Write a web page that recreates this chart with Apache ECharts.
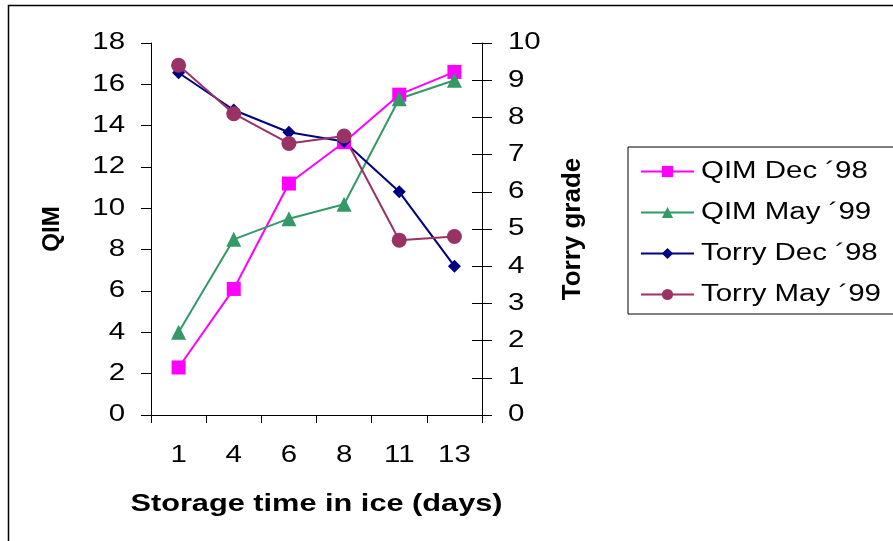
<!DOCTYPE html>
<html>
<head>
<meta charset="utf-8">
<script src="https://cdn.jsdelivr.net/npm/echarts@6/dist/echarts.min.js"></script>
<style>
html,body{margin:0;padding:0;background:#fff;}
#main{width:893px;height:541px;}
</style>
</head>
<body>
<div id="main"></div>
<script>
var categories = ['1', '4', '6', '8', '11', '13'];
var qimDec98 = [2.3, 6.1, 11.2, 13.2, 15.5, 16.6];
var qimMay99 = [4.0, 8.5, 9.5, 10.2, 15.3, 16.2];
var torryDec98 = [9.2, 8.2, 7.6, 7.35, 6.0, 4.0];
var torryMay99 = [9.4, 8.1, 7.3, 7.5, 4.7, 4.8];
var seriesNames = ['QIM Dec \u00B498', 'QIM May \u00B499', 'Torry Dec \u00B498', 'Torry May \u00B499'];

// The reference text is horizontally stretched (old Excel rendering); emulate it
// for horizontal text by scaling glyphs around their anchor point.
(function () {
  var proto = CanvasRenderingContext2D.prototype;
  var orig = proto.fillText;
  proto.fillText = function (t, x, y, maxW) {
    var m = this.getTransform();
    if (Math.abs(m.b) < 1e-6 && Math.abs(m.c) < 1e-6) {
      this.save();
      this.translate(x, y);
      this.scale(1.28, 1);
      if (maxW === undefined) orig.call(this, t, 0, 0); else orig.call(this, t, 0, 0, maxW);
      this.restore();
    } else {
      if (maxW === undefined) orig.call(this, t, x, y); else orig.call(this, t, x, y, maxW);
    }
  };
})();

var FONT = 'Liberation Sans, Arial, sans-serif';
var chart = echarts.init(document.getElementById('main'), null, {renderer: 'canvas'});
var option = {
  backgroundColor: '#ffffff',
  animation: false,
  graphic: [{
    type: 'rect',
    left: 6, top: 3,
    shape: {width: 1000, height: 1000},
    style: {fill: 'none', stroke: '#000', lineWidth: 1.5},
    silent: true
  }],
  grid: {left: 151, right: 411, top: 43, bottom: 126, containLabel: false},
  legend: {
    orient: 'vertical',
    left: 628, top: 147,
    padding: [13, 80, 8, 12],
    itemGap: 18,
    itemWidth: 53,
    itemHeight: 14,
    borderColor: '#000',
    borderWidth: 1,
    textStyle: {fontFamily: FONT, fontSize: 23, color: '#000', padding: [0, 0, 0, 2]},
    data: seriesNames
  },
  xAxis: {
    type: 'category',
    data: categories,
    boundaryGap: true,
    name: 'Storage time in ice (days)',
    nameLocation: 'middle',
    nameGap: 77,
    nameTextStyle: {fontFamily: FONT, fontSize: 24, fontWeight: 'bold', color: '#000'},
    axisLine: {lineStyle: {color: '#000', width: 1}},
    axisTick: {show: true, length: 8, lineStyle: {color: '#000'}},
    axisLabel: {fontFamily: FONT, fontSize: 23, color: '#000', margin: 29, interval: 0},
    splitLine: {show: false}
  },
  yAxis: [{
    type: 'value', min: 0, max: 18, interval: 2,
    position: 'left',
    name: 'QIM', nameLocation: 'middle', nameGap: 87, nameRotate: 90,
    nameTextStyle: {fontFamily: FONT, fontSize: 24, fontWeight: 'bold', color: '#000'},
    axisLine: {show: true, lineStyle: {color: '#000', width: 1}},
    axisTick: {show: true, length: 10, lineStyle: {color: '#000'}},
    axisLabel: {fontFamily: FONT, fontSize: 23, color: '#000', margin: 26},
    splitLine: {show: false}
  }, {
    type: 'value', min: 0, max: 10, interval: 1,
    position: 'right',
    name: 'Torry grade', nameLocation: 'middle', nameGap: 78, nameRotate: 90,
    nameTextStyle: {fontFamily: FONT, fontSize: 26, fontWeight: 'bold', color: '#000'},
    axisLine: {show: true, lineStyle: {color: '#000', width: 1}},
    axisTick: {show: true, length: 10, lineStyle: {color: '#000'}},
    axisLabel: {fontFamily: FONT, fontSize: 23, color: '#000', margin: 26},
    splitLine: {show: false}
  }, {
    type: 'value', min: 0, max: 10, interval: 1,
    position: 'right',
    axisLine: {show: false},
    axisTick: {show: true, inside: true, length: 10, lineStyle: {color: '#000'}},
    axisLabel: {show: false},
    splitLine: {show: false}
  }],
  series: [{
    name: seriesNames[0], type: 'line', yAxisIndex: 0, data: qimDec98,
    symbol: 'rect', symbolSize: 14,
    lineStyle: {color: '#FF00FF', width: 2},
    itemStyle: {color: '#FF00FF'}
  }, {
    name: seriesNames[1], type: 'line', yAxisIndex: 0, data: qimMay99,
    symbol: 'triangle', symbolSize: 15,
    lineStyle: {color: '#339966', width: 2},
    itemStyle: {color: '#339966'}
  }, {
    name: seriesNames[2], type: 'line', yAxisIndex: 1, data: torryDec98,
    symbol: 'diamond', symbolSize: 13,
    lineStyle: {color: '#000080', width: 2},
    itemStyle: {color: '#000080'}
  }, {
    name: seriesNames[3], type: 'line', yAxisIndex: 1, data: torryMay99,
    symbol: 'circle', symbolSize: 15,
    lineStyle: {color: '#993366', width: 2},
    itemStyle: {color: '#993366'}
  }]
};
chart.setOption(option);
</script>
</body>
</html>
